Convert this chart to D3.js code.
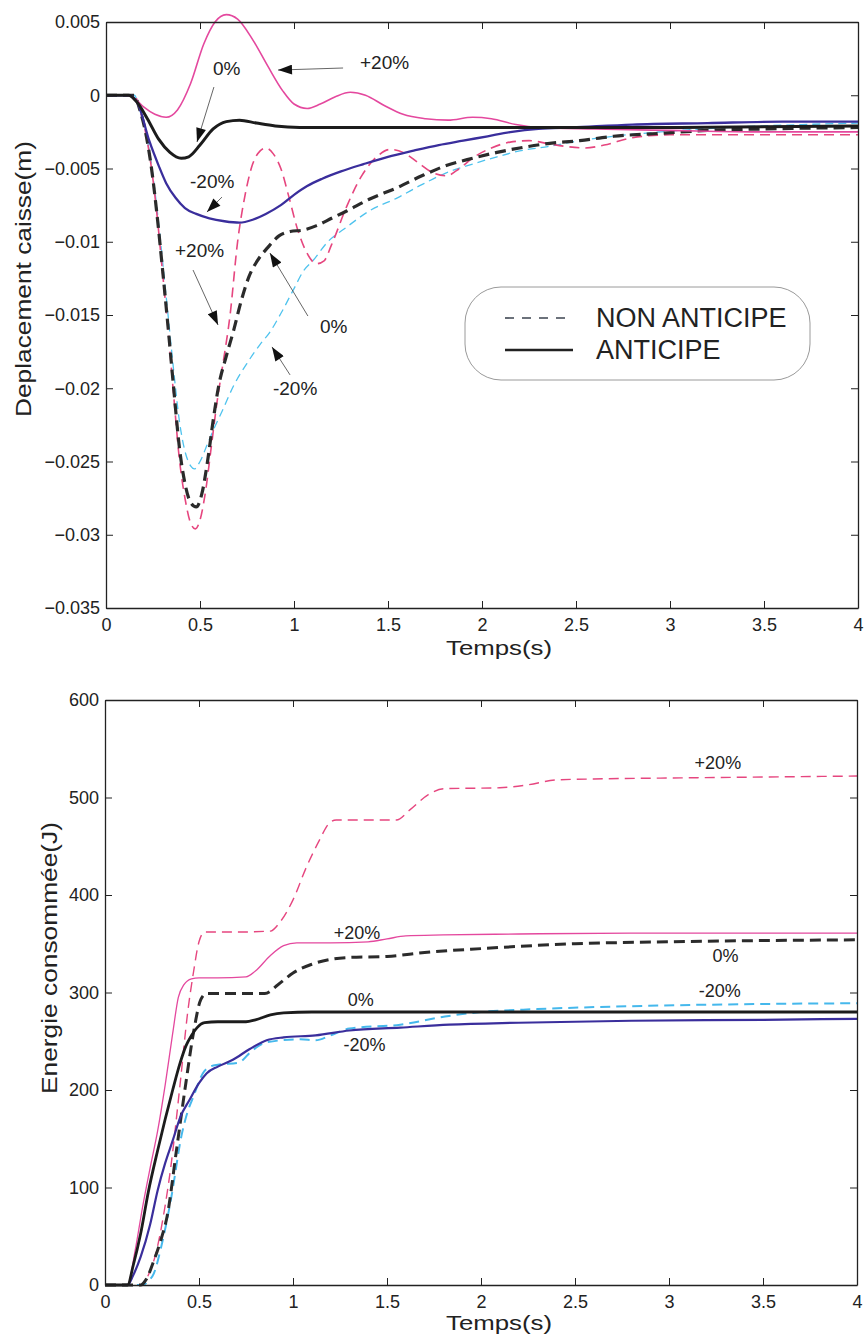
<!DOCTYPE html>
<html>
<head>
<meta charset="utf-8">
<script src="https://cdn.jsdelivr.net/npm/d3@7"></script>
<style>
  html, body { margin: 0; padding: 0; background: #fff; }
  svg { display: block; }
  text { font-family: "Liberation Sans", Arial, Helvetica, sans-serif; fill: #222; }
</style>
</head>
<body>
<div id="chart"></div>
<script>
// ---------- Axis ticks ----------
const timeTicks = [0, 0.5, 1, 1.5, 2, 2.5, 3, 3.5, 4];
const timeTickLabels = ["0", "0.5", "1", "1.5", "2", "2.5", "3", "3.5", "4"];
const depTicks = [0.005, 0, -0.005, -0.01, -0.015, -0.02, -0.025, -0.03, -0.035];
const depTickLabels = ["0.005", "0", "\u22120.005", "\u22120.01", "\u22120.015", "\u22120.02", "\u22120.025", "\u22120.03", "\u22120.035"];
const energyTicks = [0, 100, 200, 300, 400, 500, 600];
const energyTickLabels = ["0", "100", "200", "300", "400", "500", "600"];

// ---------- Body displacement (m) vs time (s) ----------
// anticipated control (solid)
const depAntPlus20 = [[0,0],[0.1,0],[0.15,-0.0002],[0.2,-0.0008],[0.26,-0.0013],[0.32,-0.0015],[0.38,-0.0010],[0.45,0.0008],[0.52,0.0035],[0.58,0.0050],[0.64,0.0055],[0.70,0.0052],[0.78,0.0038],[0.86,0.0020],[0.94,0.0003],[1.00,-0.0006],[1.07,-0.0009],[1.14,-0.0006],[1.22,-0.0001],[1.30,0.0002],[1.38,0.0000],[1.48,-0.0007],[1.58,-0.0013],[1.70,-0.0016],[1.82,-0.0017],[1.95,-0.0015],[2.05,-0.0016],[2.18,-0.0020],[2.3,-0.0022],[2.6,-0.0023],[3,-0.0024],[3.5,-0.0025],[4,-0.0025]];
const depAnt0 = [[0,0],[0.12,0],[0.16,-0.0004],[0.22,-0.0016],[0.28,-0.0030],[0.34,-0.0039],[0.40,-0.0043],[0.44,-0.0042],[0.50,-0.0034],[0.57,-0.0023],[0.64,-0.0018],[0.71,-0.0017],[0.80,-0.0019],[0.90,-0.0021],[1.03,-0.0022],[1.3,-0.0022],[2,-0.0022],[3,-0.0022],[4,-0.0021]];
const depAntMinus20 = [[0,0],[0.12,0],[0.17,-0.0006],[0.23,-0.0031],[0.28,-0.0048],[0.32,-0.0060],[0.37,-0.0070],[0.42,-0.0077],[0.48,-0.0081],[0.55,-0.0084],[0.63,-0.0086],[0.71,-0.0087],[0.78,-0.0085],[0.85,-0.0081],[0.93,-0.0075],[1.0,-0.0068],[1.07,-0.0062],[1.15,-0.0057],[1.25,-0.0052],[1.37,-0.0047],[1.5,-0.0042],[1.63,-0.0038],[1.77,-0.0034],[1.9,-0.0031],[2.03,-0.0028],[2.16,-0.0025],[2.3,-0.0023],[2.48,-0.0022],[2.8,-0.0020],[3.2,-0.0019],[3.6,-0.0018],[4,-0.0018]];
// non-anticipated control (dashed)
const depNonPlus20 = [[0,0],[0.15,0],[0.18,-0.0010],[0.21,-0.0025],[0.24,-0.0048],[0.27,-0.0080],[0.30,-0.0120],[0.33,-0.0160],[0.36,-0.0205],[0.39,-0.0248],[0.42,-0.0275],[0.45,-0.0292],[0.475,-0.0296],[0.50,-0.0290],[0.53,-0.0270],[0.56,-0.0240],[0.59,-0.0210],[0.62,-0.0185],[0.66,-0.0150],[0.70,-0.0100],[0.74,-0.0068],[0.78,-0.0047],[0.82,-0.0038],[0.85,-0.0036],[0.89,-0.0040],[0.93,-0.0050],[0.97,-0.0068],[1.02,-0.0092],[1.07,-0.0108],[1.12,-0.0115],[1.16,-0.0113],[1.20,-0.0102],[1.28,-0.0076],[1.36,-0.0055],[1.44,-0.0042],[1.51,-0.0037],[1.58,-0.0039],[1.66,-0.0046],[1.74,-0.0053],[1.81,-0.0055],[1.88,-0.0050],[1.96,-0.0042],[2.05,-0.0036],[2.15,-0.0032],[2.25,-0.0031],[2.35,-0.0033],[2.45,-0.0035],[2.55,-0.0036],[2.65,-0.0034],[2.8,-0.0029],[3.0,-0.0027],[3.5,-0.0027],[4,-0.0027]];
const depNon0 = [[0,0],[0.15,0],[0.18,-0.0010],[0.21,-0.0025],[0.24,-0.0048],[0.27,-0.0080],[0.30,-0.0118],[0.33,-0.0158],[0.36,-0.0200],[0.39,-0.0240],[0.42,-0.0265],[0.45,-0.0278],[0.48,-0.0281],[0.51,-0.0272],[0.54,-0.0250],[0.57,-0.0222],[0.60,-0.0198],[0.64,-0.0178],[0.68,-0.0160],[0.72,-0.0140],[0.76,-0.0124],[0.81,-0.0112],[0.86,-0.0104],[0.92,-0.0096],[0.98,-0.0093],[1.05,-0.0092],[1.12,-0.0089],[1.2,-0.0084],[1.28,-0.0079],[1.4,-0.0071],[1.55,-0.0063],[1.68,-0.0055],[1.81,-0.0048],[1.95,-0.0043],[2.08,-0.0039],[2.2,-0.0036],[2.35,-0.0033],[2.52,-0.0031],[2.7,-0.0028],[2.95,-0.0026],[3.2,-0.0024],[3.5,-0.0023],[4,-0.0022]];
const depNonMinus20 = [[0,0],[0.15,0],[0.18,-0.0010],[0.21,-0.0024],[0.24,-0.0046],[0.27,-0.0076],[0.30,-0.0112],[0.33,-0.0150],[0.36,-0.0188],[0.39,-0.0222],[0.42,-0.0243],[0.45,-0.0253],[0.47,-0.0255],[0.50,-0.0250],[0.54,-0.0238],[0.58,-0.0226],[0.62,-0.0215],[0.68,-0.0198],[0.75,-0.0183],[0.82,-0.0170],[0.87,-0.0162],[0.93,-0.0149],[1.0,-0.0132],[1.05,-0.0120],[1.10,-0.0113],[1.18,-0.0100],[1.28,-0.0090],[1.4,-0.0079],[1.55,-0.0070],[1.68,-0.0061],[1.81,-0.0053],[1.95,-0.0047],[2.08,-0.0042],[2.2,-0.0038],[2.35,-0.0035],[2.52,-0.0031],[2.7,-0.0028],[2.95,-0.0025],[3.3,-0.0022],[3.7,-0.0020],[4,-0.0019]];

// ---------- Consumed energy (J) vs time (s) ----------
const enAntPlus20 = [[0,0],[0.12,0],[0.16,35],[0.2,80],[0.24,120],[0.28,158],[0.32,205],[0.36,258],[0.39,295],[0.42,308],[0.46,314],[0.5,315],[0.6,315],[0.75,316],[0.8,322],[0.88,338],[0.95,348],[1.02,351],[1.2,351],[1.4,352],[1.5,355],[1.6,358],[1.8,359],[2.2,360],[2.8,361],[4,361]];
const enAnt0 = [[0,0],[0.12,0],[0.15,20],[0.19,53],[0.23,95],[0.28,138],[0.32,170],[0.36,200],[0.40,228],[0.43,245],[0.46,256],[0.49,264],[0.53,269],[0.6,270],[0.75,270],[0.8,272],[0.88,277],[0.95,279],[1.1,280],[4,280]];
const enAntMinus20 = [[0,0],[0.12,0],[0.15,10],[0.19,29],[0.24,62],[0.28,97],[0.32,125],[0.36,148],[0.40,172],[0.45,190],[0.50,207],[0.54,217],[0.60,224],[0.68,231],[0.77,242],[0.86,251],[0.95,254],[1.12,256],[1.3,261],[1.57,264],[1.83,267],[2.2,269],[2.8,271],[3.5,272],[4,273]];
const enNonPlus20 = [[0,0],[0.2,0],[0.23,10],[0.27,32],[0.31,70],[0.35,121],[0.40,207],[0.44,280],[0.47,320],[0.50,352],[0.53,362],[0.7,362],[0.88,363],[0.93,372],[1.0,395],[1.07,428],[1.14,456],[1.19,473],[1.23,477],[1.55,477],[1.62,487],[1.72,503],[1.8,509],[2.1,510],[2.25,513],[2.4,518],[2.6,519],[3.0,520],[3.5,521],[4,522]];
const enNon0 = [[0,0],[0.19,0],[0.22,6],[0.26,25],[0.30,48],[0.33,70],[0.38,138],[0.43,207],[0.47,258],[0.51,293],[0.54,299],[0.85,299],[0.92,308],[1.0,320],[1.1,329],[1.2,334],[1.3,336],[1.5,337],[1.7,341],[2.0,345],[2.5,350],[3.0,352],[4,354]];
const enNonMinus20 = [[0,0],[0.2,0],[0.23,4],[0.26,12],[0.30,40],[0.35,87],[0.41,156],[0.44,178],[0.47,193],[0.52,217],[0.56,224],[0.6,226],[0.71,228],[0.78,240],[0.86,249],[1.04,252],[1.12,251],[1.2,256],[1.3,263],[1.57,267],[1.83,276],[2.0,280],[2.3,283],[2.8,286],[3.4,288],[4,289]];

// ---------- Annotations (data coordinates) ----------
const depNotes = [
  {text: "+20%", at: [1.351, 0.00179], from: [1.261, 0.00186], to: [0.915, 0.00172]},
  {text: "0%",   at: [0.569, 0.00138], from: [0.574, 0.00056], to: [0.484, -0.00319]},
  {text: "-20%", at: [0.447, -0.00633], from: [0.617, -0.00695], to: [0.537, -0.00797]},
  {text: "+20%", at: [0.367, -0.01104], from: [0.463, -0.01193], to: [0.596, -0.01568]},
  {text: "0%",   at: [1.138, -0.01623], from: [1.074, -0.01507], to: [0.872, -0.01077]},
  {text: "-20%", at: [0.888, -0.02046], from: [0.979, -0.01909], to: [0.883, -0.01718]}
];
const energyNotes = [
  {text: "+20%", at: [3.26, 529]},
  {text: "+20%", at: [1.34, 355]},
  {text: "0%",   at: [3.30, 331]},
  {text: "-20%", at: [3.27, 295]},
  {text: "0%",   at: [1.36, 286]},
  {text: "-20%", at: [1.38, 240]}
];

const legendItems = [
  {label: "NON ANTICIPE", dash: "9,8", width: 1.6, color: "#3d4450"},
  {label: "ANTICIPE", dash: null, width: 2.6, color: "#222"}
];

// ---------- Drawing ----------
const W = 866, H = 1335;
const svg = d3.select("#chart").append("svg")
  .attr("width", W).attr("height", H).attr("viewBox", `0 0 ${W} ${H}`);
svg.append("rect").attr("width", W).attr("height", H).attr("fill", "#fff");

const defs = svg.append("defs");
defs.append("marker")
  .attr("id", "arrowHead")
  .attr("viewBox", "0 0 14 10")
  .attr("refX", 14).attr("refY", 5)
  .attr("markerUnits", "userSpaceOnUse")
  .attr("markerWidth", 15).attr("markerHeight", 10)
  .attr("orient", "auto")
  .append("path").attr("d", "M0,0 L14,5 L0,10 Z").attr("fill", "#111");

function drawFrame(g, x, y, yTicks, yLabels) {
  const [x0, x1] = x.range();
  const [y0, y1] = y.range(); // y0 bottom, y1 top
  const tickLen = 7;

  const bottom = g.append("g").attr("transform", `translate(0,${y0})`)
    .call(d3.axisBottom(x).tickValues(timeTicks)
      .tickFormat((d, i) => timeTickLabels[i])
      .tickSizeInner(-tickLen).tickSizeOuter(0).tickPadding(10));
  const top = g.append("g").attr("transform", `translate(0,${y1})`)
    .call(d3.axisTop(x).tickValues(timeTicks).tickFormat("")
      .tickSizeInner(-tickLen).tickSizeOuter(0));
  const left = g.append("g").attr("transform", `translate(${x0},0)`)
    .call(d3.axisLeft(y).tickValues(yTicks)
      .tickFormat((d, i) => yLabels[i])
      .tickSizeInner(-tickLen).tickSizeOuter(0).tickPadding(6));
  const right = g.append("g").attr("transform", `translate(${x1},0)`)
    .call(d3.axisRight(y).tickValues(yTicks).tickFormat("")
      .tickSizeInner(-tickLen).tickSizeOuter(0));

  [bottom, top, left, right].forEach(a => {
    a.select(".domain").attr("stroke", "#222").attr("stroke-width", 1.3);
    a.selectAll(".tick line").attr("stroke", "#222").attr("stroke-width", 1);
    a.selectAll("text").attr("font-size", 18).attr("fill", "#333")
      .attr("font-family", "\"Liberation Sans\", Arial, sans-serif");
  });
}

function drawSeries(g, x, y, series) {
  const line = d3.line().x(d => x(d[0])).y(d => y(d[1])).curve(d3.curveMonotoneX);
  series.forEach(s => {
    g.append("path").datum(s.data)
      .attr("fill", "none")
      .attr("stroke", s.color)
      .attr("stroke-width", s.width)
      .attr("stroke-dasharray", s.dash || null)
      .attr("stroke-linejoin", "round")
      .attr("d", line);
  });
}

// ----- Panel 1: displacement -----
const xDep = d3.scaleLinear().domain([0, 4]).range([106, 858]);
const yDep = d3.scaleLinear().domain([-0.035, 0.005]).range([608, 22]);
const g1 = svg.append("g");

drawSeries(g1, xDep, yDep, [
  {data: depNonMinus20, color: "#4fc3ee", width: 1.3, dash: "8,5"},
  {data: depNonPlus20,  color: "#e6467f", width: 1.6, dash: "10,6"},
  {data: depNon0,       color: "#2b2b2b", width: 3.2, dash: "11,6"},
  {data: depAntPlus20,  color: "#e4489e", width: 1.6},
  {data: depAntMinus20, color: "#3a2e9c", width: 2.3},
  {data: depAnt0,       color: "#1c1c1c", width: 3.0}
]);
drawFrame(g1, xDep, yDep, depTicks, depTickLabels);

depNotes.forEach(n => {
  g1.append("line")
    .attr("x1", xDep(n.from[0])).attr("y1", yDep(n.from[1]))
    .attr("x2", xDep(n.to[0])).attr("y2", yDep(n.to[1]))
    .attr("stroke", "#555").attr("stroke-width", 0.9)
    .attr("marker-end", "url(#arrowHead)");
  g1.append("text")
    .attr("x", xDep(n.at[0])).attr("y", yDep(n.at[1]))
    .attr("font-size", 19).attr("fill", "#333")
    .text(n.text);
});

// legend
const leg = g1.append("g").attr("transform", `translate(465,287)`);
leg.append("rect").attr("width", 345).attr("height", 93).attr("rx", 36).attr("ry", 36)
  .attr("fill", "#fff").attr("stroke", "#9a9a9a").attr("stroke-width", 1);
legendItems.forEach((it, i) => {
  const yy = 31 + i * 32;
  leg.append("line").attr("x1", 40).attr("x2", 108).attr("y1", yy).attr("y2", yy)
    .attr("stroke", it.color).attr("stroke-width", it.width)
    .attr("stroke-dasharray", it.dash);
  leg.append("text").attr("x", 131).attr("y", yy + 9)
    .attr("font-size", 27).attr("fill", "#333")
    .text(it.label);
});

// axis titles
g1.append("text").attr("x", 499).attr("y", 655).attr("text-anchor", "middle")
  .attr("font-size", 21).attr("textLength", 106).attr("lengthAdjust", "spacingAndGlyphs")
  .text("Temps(s)");
g1.append("text").attr("transform", "translate(31,279) rotate(-90)")
  .attr("text-anchor", "middle").attr("font-size", 22.5)
  .attr("textLength", 276).attr("lengthAdjust", "spacingAndGlyphs")
  .text("Deplacement caisse(m)");

// ----- Panel 2: energy -----
const xEn = d3.scaleLinear().domain([0, 4]).range([105, 857]);
const yEn = d3.scaleLinear().domain([0, 600]).range([1285, 700]);
const g2 = svg.append("g");

drawSeries(g2, xEn, yEn, [
  {data: enNonPlus20,  color: "#e6467f", width: 1.4, dash: "10,6"},
  {data: enNonMinus20, color: "#45b8ec", width: 2.0, dash: "10,6"},
  {data: enNon0,       color: "#2b2b2b", width: 3.0, dash: "11,6"},
  {data: enAntPlus20,  color: "#e4489e", width: 1.3},
  {data: enAntMinus20, color: "#3a2e9c", width: 2.2},
  {data: enAnt0,       color: "#1c1c1c", width: 2.8}
]);
drawFrame(g2, xEn, yEn, energyTicks, energyTickLabels);

energyNotes.forEach(n => {
  g2.append("text")
    .attr("x", xEn(n.at[0])).attr("y", yEn(n.at[1]))
    .attr("text-anchor", "middle")
    .attr("font-size", 18).attr("fill", "#333")
    .text(n.text);
});

g2.append("text").attr("x", 499).attr("y", 1330).attr("text-anchor", "middle")
  .attr("font-size", 21).attr("textLength", 106).attr("lengthAdjust", "spacingAndGlyphs")
  .text("Temps(s)");
g2.append("text").attr("transform", "translate(57,958) rotate(-90)")
  .attr("text-anchor", "middle").attr("font-size", 22.5)
  .attr("textLength", 272).attr("lengthAdjust", "spacingAndGlyphs")
  .text("Energie consommée(J)");
</script>
</body>
</html>
